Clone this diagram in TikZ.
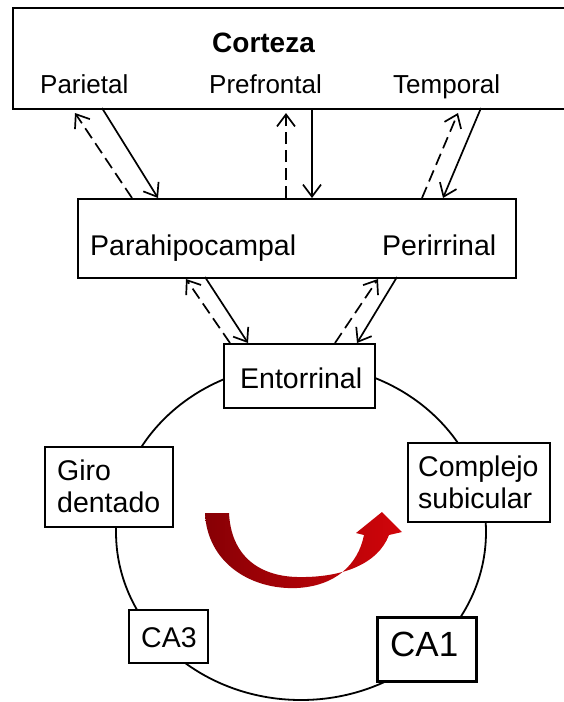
\documentclass[tikz,border=0pt]{standalone}
\usepackage{fontspec}
\setmainfont{Liberation Sans}
\usetikzlibrary{arrows.meta}
\definecolor{redDark}{RGB}{135,0,5}
\definecolor{redBright}{RGB}{210,5,10}
\begin{document}
\begin{tikzpicture}[x=1pt,y=-1pt,
  box/.style={draw, line width=1.8pt, fill=white, inner sep=0pt, anchor=north west},
  lbl/.style={inner sep=0pt, anchor=base west, font=\fontsize{28.5}{32}\selectfont},
  toplbl/.style={lbl, font=\fontsize{26}{30}\selectfont},
  conn/.style={line width=1.7pt, -{Straight Barb[length=12pt,width=18pt,line width=1.7pt]}},
  dsh/.style={conn, dash pattern=on 12pt off 6pt}]
\useasboundingbox (0,0) rectangle (563,702);
\fill[white] (0,0) rectangle (563,702);

% hippocampal loop
\draw[line width=1.8pt] (301,532) ellipse [x radius=185, y radius=168];

% boxes
\node[box, minimum width=553pt, minimum height=101pt] (cortex) at (12,7) {};
\node[box, minimum width=438pt, minimum height=79pt] (para) at (77,198) {};
\node[box, minimum width=151pt, minimum height=64pt] (ento) at (223,343) {};
\node[box, minimum width=128pt, minimum height=80pt] (giro) at (44,446) {};
\node[box, minimum width=79pt, minimum height=53pt] (ca3) at (128,609) {};
\node[box, minimum width=142pt, minimum height=79pt] (comp) at (407,442) {};
\node[box, line width=2.8pt, minimum width=99pt, minimum height=64pt] (ca1) at (376,616) {};

% labels
\node[lbl, font=\fontsize{28}{32}\selectfont\bfseries] (tCort) at (212,52) {Corteza};
\node[toplbl] (tPar) at (40,93) {Parietal};
\node[toplbl] (tPre) at (209,93) {Prefrontal};
\node[toplbl] (tTem) at (393,93) {Temporal};
\node[lbl] (tPara) at (90,255) {Parahipocampal};
\node[lbl] (tPeri) at (382,255) {Perirrinal};
\node[lbl] (tEnto) at (240,388) {Entorrinal};
\node[lbl, align=left] (tGiro) at (57,512) {Giro\\dentado};
\node[lbl] (tCA3) at (141,647) {CA3};
\node[lbl, align=left] (tComp) at (418,508) {Complejo\\subicular};
\node[lbl, font=\fontsize{35}{40}\selectfont] (tCA1) at (390,656) {CA1};

% connector end points
\coordinate (a1) at (132,198); \coordinate (a2) at (75,113);
\coordinate (b1) at (102,108); \coordinate (b2) at (158,198);
\coordinate (c1) at (286,198); \coordinate (c2) at (286,113);
\coordinate (d1) at (312,108); \coordinate (d2) at (312,198);
\coordinate (e1) at (422,198); \coordinate (e2) at (458,113);
\coordinate (f1) at (481,108); \coordinate (f2) at (443,198);
\coordinate (g1) at (230,343); \coordinate (g2) at (186,279);
\coordinate (h1) at (205,277); \coordinate (h2) at (248,343);
\coordinate (i1) at (335,343); \coordinate (i2) at (378,279);
\coordinate (j1) at (397,277); \coordinate (j2) at (357,343);

\draw[dsh] (a1) -- (a2);
\draw[conn] (b1) -- (b2);
\draw[dsh] (c1) -- (c2);
\draw[conn] (d1) -- (d2);
\draw[dsh] (e1) -- (e2);
\draw[conn] (f1) -- (f2);
\draw[dsh] (g1) -- (g2);
\draw[conn] (h1) -- (h2);
\draw[dsh] (i1) -- (i2);
\draw[conn] (j1) -- (j2);

% red curved arrow
\shade[left color=redDark, right color=redBright]
  (205,513) .. controls (207,562) and (250,590) .. (297,588)
  .. controls (335,586) and (358,565) .. (364,535)
  -- (356,533) -- (382,512) -- (402,532) -- (389,535)
  .. controls (378,564) and (342,578) .. (297,577)
  .. controls (258,576) and (231,555) .. (229,513) -- cycle;
\end{tikzpicture}
\end{document}
